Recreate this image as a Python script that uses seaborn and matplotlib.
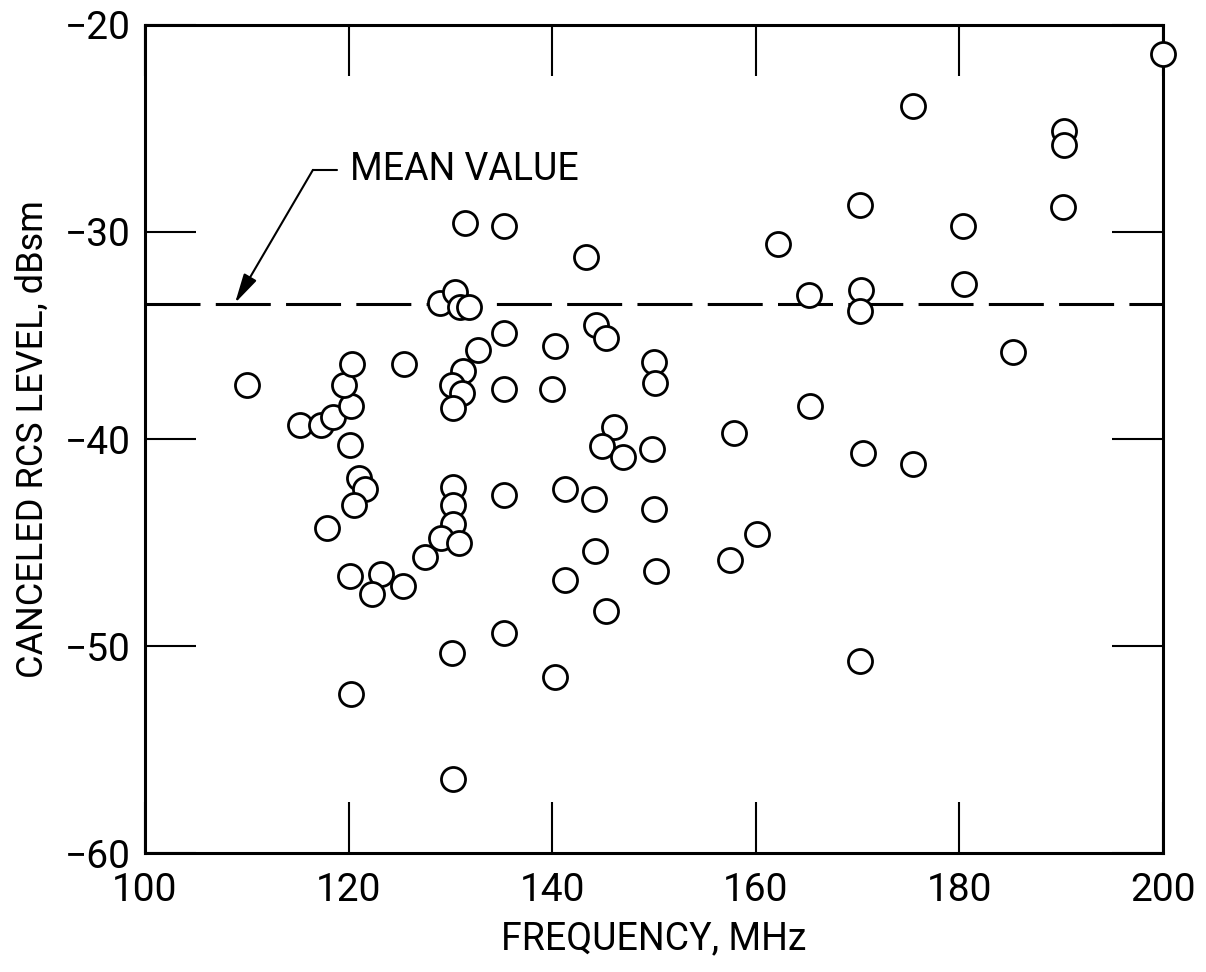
import matplotlib
matplotlib.use("Agg")
import matplotlib.pyplot as plt
import seaborn as sns
import pandas as pd

# data
freq = [110.0, 115.2, 117.3, 118.5, 120.2, 119.6, 120.3, 120.1, 125.4, 121.0,
        121.6, 120.5, 117.9, 130.3, 130.3, 130.3, 129.1, 130.8, 127.5, 132.7,
        131.2, 130.2, 131.1, 130.3, 129.0, 130.5, 130.9, 131.8, 120.1, 123.2,
        122.3, 125.3, 130.2, 120.2, 130.3, 131.4, 135.3, 143.3, 162.2, 135.3,
        140.3, 144.3, 145.3, 150.0, 150.1, 135.3, 140.0, 146.1, 144.9, 147.0,
        149.8, 157.9, 135.3, 141.3, 144.1, 150.0, 160.1, 157.5, 144.2, 135.3,
        140.3, 141.3, 145.3, 150.2, 200.0, 175.4, 190.3, 190.3, 190.2, 170.2,
        180.4, 180.5, 165.2, 170.3, 170.2, 185.3, 165.3, 170.5, 175.4, 170.2]
rcs = [-37.4, -39.3, -39.3, -38.95, -38.4, -37.4, -36.4, -40.3, -36.4, -41.9,
       -42.4, -43.2, -44.3, -42.3, -43.2, -44.1, -44.8, -45.0, -45.7, -35.7,
       -36.7, -37.4, -37.8, -38.5, -33.45, -32.9, -33.6, -33.6, -46.6, -46.5,
       -47.5, -47.1, -50.35, -52.3, -56.4, -29.55, -29.7, -31.2, -30.6, -34.9,
       -35.5, -34.5, -35.1, -36.3, -37.3, -37.6, -37.6, -39.4, -40.35, -40.85,
       -40.5, -39.7, -42.7, -42.4, -42.9, -43.4, -44.6, -45.85, -45.4, -49.35,
       -51.5, -46.8, -48.3, -46.4, -21.4, -23.9, -25.1, -25.8, -28.8, -28.7,
       -29.7, -32.5, -33.05, -32.8, -33.8, -35.8, -38.4, -40.7, -41.2, -50.7]
mean_value = -33.5

x_ticks = [100, 120, 140, 160, 180, 200]
y_ticks = [-60, -50, -40, -30, -20]
y_tick_labels = ['\u221260', '\u221250', '\u221240', '\u221230', '\u221220']

df = pd.DataFrame({'freq': freq, 'rcs': rcs})

sns.set_style("ticks")
plt.rcParams['font.family'] = ['Roboto', 'DejaVu Sans']
plt.rcParams['text.color'] = 'black'
plt.rcParams['axes.labelcolor'] = 'black'
plt.rcParams['xtick.color'] = 'black'
plt.rcParams['ytick.color'] = 'black'

fig = plt.figure(figsize=(12.06, 9.72), dpi=100)
ax = fig.add_axes([0.1202, 0.1224, 0.8441, 0.8519])

# mean value dashed line
ax.axhline(mean_value, color='black', lw=2.2, ls=(0, (18, 5)), zorder=2)

sns.scatterplot(data=df, x='freq', y='rcs', ax=ax, s=300, color='white',
                edgecolor='black', linewidth=2.0, zorder=3, clip_on=False)

ax.set_xlim(100, 200)
ax.set_ylim(-60, -20)
ax.set_xticks(x_ticks)
ax.set_yticks(y_ticks)
ax.set_yticklabels(y_tick_labels)

ax.tick_params(direction='in', length=37, width=1.5, top=True, right=True,
               labelsize=28)
ax.tick_params(axis='x', pad=14)
ax.tick_params(axis='y', pad=10)
for sp in ax.spines.values():
    sp.set_linewidth(2.2)
    sp.set_color('black')
    sp.set_visible(True)

ax.set_xlabel('FREQUENCY, MHz', fontsize=27, labelpad=8)
ax.set_ylabel('CANCELED RCS LEVEL, dBsm', fontsize=26, labelpad=10)

# MEAN VALUE callout
ax.plot([116.5, 118.9], [-27.0, -27.0], color='black', lw=1.5)
ax.annotate('', xy=(108.85, -33.43), xytext=(116.5, -27.0),
            arrowprops=dict(arrowstyle='-|>,head_length=0.9,head_width=0.22',
                            color='black', lw=1.5, shrinkA=0, shrinkB=0,
                            mutation_scale=20))
ax.text(120.1, -27.0, 'MEAN VALUE', fontsize=27, va='center', ha='left')

fig.savefig('out.png', dpi=100)
